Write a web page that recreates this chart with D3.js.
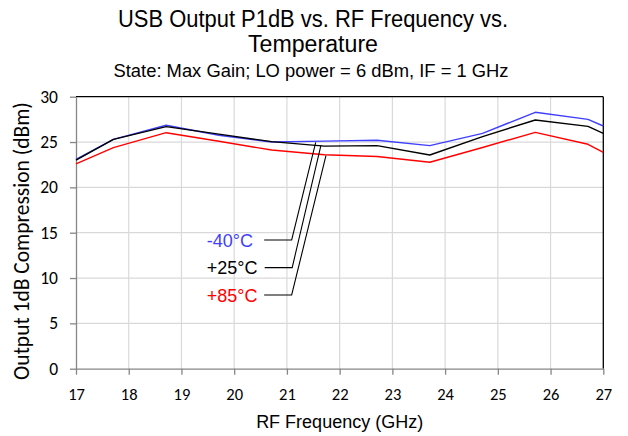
<!DOCTYPE html>
<html>
<head>
<meta charset="utf-8">
<script src="https://cdn.jsdelivr.net/npm/d3@7"></script>
<style>
  html, body { margin: 0; padding: 0; background: #fff; }
  svg { display: block; }
</style>
</head>
<body>
<svg id="chart" width="628" height="436"></svg>
<script>
// RF frequency points (GHz)
const freqs = [17, 17.71, 18.71, 19.71, 20.71, 21.71, 22.71, 23.71, 24.71, 25.71, 26.71, 27];
// Output P1dB (dBm) per temperature
const p1dbMinus40 = [23.1, 25.3, 26.85, 25.75, 25.0, 25.1, 25.19, 24.6, 25.96, 28.28, 27.5, 26.77];
const p1dbPlus25  = [23.0, 25.3, 26.7, 25.87, 25.04, 24.55, 24.6, 23.57, 25.6, 27.43, 26.73, 25.96];
const p1dbPlus85  = [22.58, 24.38, 26.03, 25.08, 24.12, 23.6, 23.4, 22.77, 24.4, 26.07, 24.75, 23.86];

const seriesNames = ["-40°C", "+25°C", "+85°C"];
const seriesColors = ["#3f3fff", "#000000", "#ff0000"];
const seriesValues = [p1dbMinus40, p1dbPlus25, p1dbPlus85];

// Callout labels: where each leader touches its curve, and where the label sits
const calloutCurveFreq = [21.546, 21.646, 21.74];
const calloutCurveVal  = [24.97, 24.67, 23.49];
const calloutElbowFreq = [21.09, 21.1, 21.09];
const calloutElbowVal  = [14.2, 11.15, 8.13];
const calloutTextFreq  = 19.48;

const xTicks = d3.range(17, 28, 1);
const yTicks = d3.range(0, 31, 5);

const W = 628, H = 436;
const m = { left: 76, right: 24.7, top: 96.7, bottom: 67.3 };
const iw = W - m.left - m.right, ih = H - m.top - m.bottom;

const svg = d3.select("#chart");
const g = svg.append("g").attr("transform", `translate(${m.left},${m.top})`);

const x = d3.scaleLinear().domain([17, 27]).range([0, iw]);
const y = d3.scaleLinear().domain([0, 30]).range([ih, 0]);

const calibri = "Carlito, Calibri, Lato, 'Noto Sans', sans-serif";
const arial = "'Liberation Sans', Arial, sans-serif";

// grid
g.append("g").selectAll("line.vg").data(xTicks.slice(1, -1)).join("line")
  .attr("x1", d => x(d)).attr("x2", d => x(d)).attr("y1", 0).attr("y2", ih)
  .attr("stroke", "#d9d9d9").attr("stroke-width", 1.2);
g.append("g").selectAll("line.hg").data(yTicks.slice(1, -1)).join("line")
  .attr("x1", 0).attr("x2", iw).attr("y1", d => y(d)).attr("y2", d => y(d))
  .attr("stroke", "#d9d9d9").attr("stroke-width", 1.2);

// top and right frame
g.append("line").attr("x1", 0).attr("x2", iw).attr("y1", 0).attr("y2", 0)
  .attr("stroke", "#000").attr("stroke-width", 1.3);
g.append("line").attr("x1", iw).attr("x2", iw).attr("y1", 0).attr("y2", ih)
  .attr("stroke", "#000").attr("stroke-width", 1.3);

// axes
const xAxis = g.append("g").attr("transform", `translate(0,${ih})`)
  .call(d3.axisBottom(x).tickValues(xTicks).tickSize(6).tickSizeOuter(0).tickPadding(14).tickFormat(d3.format("d")));
const yAxis = g.append("g")
  .call(d3.axisLeft(y).tickValues(yTicks).tickSize(6).tickSizeOuter(0).tickPadding(12).tickFormat(d3.format("d")));
[xAxis, yAxis].forEach(a => {
  a.select(".domain").attr("stroke", "#868686").attr("stroke-width", 1.3);
  a.selectAll(".tick line").attr("stroke", "#868686").attr("stroke-width", 1.3);
  a.selectAll(".tick text").attr("fill", "#000").style("font-family", calibri);
});
xAxis.selectAll(".tick text").style("font-size", "16.5px");
yAxis.selectAll(".tick text").style("font-size", "17.5px");

// series
const line = d3.line().x((d, i) => x(freqs[i])).y(d => y(d));
seriesValues.forEach((vals, k) => {
  g.append("path").datum(vals)
    .attr("fill", "none").attr("stroke", seriesColors[k]).attr("stroke-width", 1.4)
    .attr("stroke-linejoin", "round")
    .attr("d", line);
});

// callouts
seriesNames.forEach((name, k) => {
  const ex = x(calloutElbowFreq[k]), ey = y(calloutElbowVal[k]);
  const tx = x(calloutTextFreq);
  g.append("text").attr("x", tx).attr("y", ey + 6.8)
    .attr("fill", seriesColors[k])
    .style("font-family", arial).style("font-size", "18px").text(name);
  g.append("polyline")
    .attr("points", [[ex - 27.5, ey], [ex, ey], [x(calloutCurveFreq[k]), y(calloutCurveVal[k])]].map(p => p.join(",")).join(" "))
    .attr("fill", "none").attr("stroke", "#000").attr("stroke-width", 1.1);
});

// titles (set slightly condensed)
svg.append("text").attr("x", 313).attr("y", 27).attr("text-anchor", "middle")
  .attr("textLength", 390).attr("lengthAdjust", "spacingAndGlyphs")
  .style("font-family", arial).style("font-size", "23px").text("USB Output P1dB vs. RF Frequency vs.");
svg.append("text").attr("x", 313).attr("y", 52).attr("text-anchor", "middle")
  .attr("textLength", 130).attr("lengthAdjust", "spacingAndGlyphs")
  .style("font-family", arial).style("font-size", "23px").text("Temperature");
svg.append("text").attr("x", 311).attr("y", 76.5).attr("text-anchor", "middle")
  .attr("textLength", 395).attr("lengthAdjust", "spacingAndGlyphs")
  .style("font-family", arial).style("font-size", "17.5px").text("State: Max Gain; LO power = 6 dBm, IF = 1 GHz");
svg.append("text").attr("x", m.left + iw / 2).attr("y", 428).attr("text-anchor", "middle")
  .style("font-family", arial).style("font-size", "18px").text("RF Frequency (GHz)");
svg.append("text").attr("transform", `translate(29,241) rotate(-90)`).attr("text-anchor", "middle")
  .style("font-family", calibri).style("font-size", "21.5px").text("Output 1dB Compression (dBm)");
</script>
</body>
</html>
